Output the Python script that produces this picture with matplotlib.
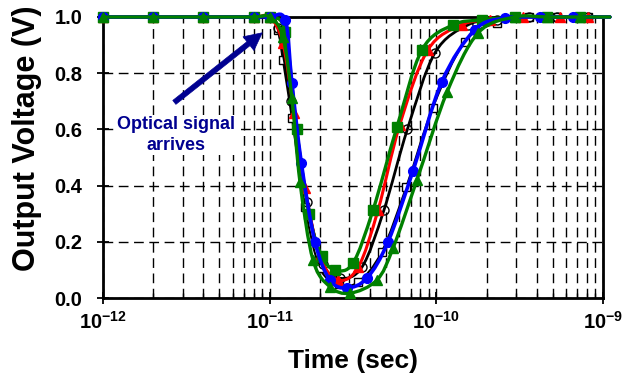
import matplotlib
matplotlib.use("Agg")
import numpy as np
import matplotlib.pyplot as plt
from matplotlib.path import Path
from matplotlib.patches import PathPatch
from matplotlib.ticker import FixedLocator, FixedFormatter, LogLocator, NullFormatter

plt.rcParams["font.family"] = ["Liberation Sans", "DejaVu Sans"]
plt.rcParams["font.weight"] = "bold"
plt.rcParams["mathtext.fontset"] = "custom"
plt.rcParams["mathtext.rm"] = "Liberation Sans:bold"
plt.rcParams["mathtext.bf"] = "Liberation Sans:bold"
plt.rcParams["mathtext.default"] = "bf"

# ── Data (time in s, output in V) ─────────────────────────────────────────
flat_t = [1e-12, 2e-12, 4e-12, 8e-12, 1e-11]
flat_v = [1.0, 1.0, 1.0, 1.0, 1.0]

sq_t = flat_t + [1.12e-11, 1.2e-11, 1.36e-11, 1.63e-11, 2.0e-11, 2.6e-11, 3.4e-11, 4.7e-11,
                 6.6e-11, 9.5e-11, 1.48e-10, 2.3e-10, 3.6e-10, 5.3e-10, 8.1e-10, 1.1e-9]
sq_v = flat_v + [0.954, 0.847, 0.64, 0.324, 0.107, 0.05, 0.057, 0.164,
                 0.395, 0.676, 0.911, 0.979, 1.0, 1.0, 1.0, 1.0]

circ_t = flat_t + [1.12e-11, 1.35e-11, 1.68e-11, 2.1e-11, 2.64e-11, 3.58e-11, 4.85e-11,
                   6.7e-11, 9.8e-11, 1.55e-10, 2.3e-10, 3.6e-10, 5.3e-10, 8.1e-10, 1.1e-9]
circ_v = flat_v + [0.96, 0.7, 0.34, 0.12, 0.07, 0.11, 0.313,
                   0.6, 0.872, 0.972, 0.99, 1.0, 1.0, 1.0, 1.0]

red_t = flat_t + [1.2e-11, 1.4e-11, 1.63e-11, 2.0e-11, 2.57e-11, 3.4e-11, 4.47e-11,
                  6.03e-11, 8.9e-11, 1.42e-10, 2.1e-10, 3.3e-10, 5.5e-10, 8.1e-10, 1.1e-9]
red_v = flat_v + [0.907, 0.66, 0.39, 0.15, 0.064, 0.11, 0.313,
                  0.616, 0.883, 0.972, 0.99, 1.0, 1.0, 1.0, 1.0]

gsq_t = flat_t + [1.24e-11, 1.45e-11, 1.72e-11, 2.05e-11, 2.47e-11, 3.16e-11, 4.17e-11,
                  5.8e-11, 8.2e-11, 1.26e-10, 1.88e-10, 2.95e-10, 4.6e-10, 7.3e-10, 1.1e-9]
gsq_v = flat_v + [0.947, 0.6, 0.3, 0.15, 0.1, 0.124, 0.313,
                  0.608, 0.883, 0.972, 0.99, 1.0, 1.0, 1.0, 1.0]

blue_t = flat_t + [1.24e-11, 1.36e-11, 1.55e-11, 1.87e-11, 2.3e-11, 2.91e-11, 3.84e-11,
                   5.13e-11, 7.24e-11, 1.08e-10, 1.7e-10, 2.57e-10, 4.2e-10, 6.6e-10, 1.1e-9]
blue_v = flat_v + [0.99, 0.765, 0.48, 0.2, 0.064, 0.036, 0.071,
                   0.2, 0.452, 0.77, 0.954, 0.996, 1.0, 1.0, 1.0]

gtri_t = flat_t + [1.2e-11, 1.36e-11, 1.52e-11, 1.82e-11, 2.3e-11, 3.03e-11, 4.4e-11,
                   5.5e-11, 7.65e-11, 1.16e-10, 1.78e-10, 2.95e-10, 4.6e-10, 7.3e-10, 1.1e-9]
gtri_v = flat_v + [0.93, 0.71, 0.413, 0.135, 0.04, 0.017, 0.064,
                   0.178, 0.42, 0.733, 0.943, 1.0, 1.0, 1.0, 1.0]

x_major = [1e-12, 1e-11, 1e-10, 1e-9]
x_labels = [r"$\mathbf{10^{-12}}$", r"$\mathbf{10^{-11}}$", r"$\mathbf{10^{-10}}$", r"$\mathbf{10^{-9}}$"]
y_ticks = [0.0, 0.2, 0.4, 0.6, 0.8, 1.0]

NAVY = "#000090"
GREEN = "#008000"


def smooth_path(t, v):
    """Excel-style smoothed line: Catmull-Rom segments drawn as cubic Beziers in log-x space."""
    x = np.log10(np.asarray(t, float))
    y = np.asarray(v, float)
    p = np.column_stack([x, y])
    p = np.vstack([p[0], p, p[-1]])  # pad ends
    verts, codes = [p[1]], [Path.MOVETO]
    for i in range(1, len(p) - 2):
        c1 = p[i] + (p[i + 1] - p[i - 1]) / 6.0
        c2 = p[i + 1] - (p[i + 2] - p[i]) / 6.0
        verts += [c1, c2, p[i + 1]]
        codes += [Path.CURVE4] * 3
    verts = np.array(verts)
    verts[:, 0] = 10 ** verts[:, 0]
    return Path(verts, codes)


def draw_series(ax, t, v, color, lw, z, **mkw):
    ax.add_patch(PathPatch(smooth_path(t, v), fill=False, ec=color, lw=lw,
                           capstyle="round", joinstyle="round", clip_on=False, zorder=z))
    # last point lies past the right edge: line only, no marker
    ax.plot(t[:-1], v[:-1], ls="none", clip_on=False, zorder=z + 0.1, **mkw)


# ── Figure ────────────────────────────────────────────────────────────────
fig = plt.figure(figsize=(6.33, 3.75), dpi=100)
ax = fig.add_axes([103 / 633, 1 - 298 / 375, 500 / 633, 281 / 375])

ax.set_xscale("log")
ax.set_xlim(1e-12, 1e-9)
ax.set_ylim(0.0, 1.0)

dash = (0, (7, 4))
ax.grid(True, axis="x", which="both", color="black", ls=dash, lw=1.0)
ax.grid(True, axis="y", which="major", color="black", ls=dash, lw=1.0)
ax.set_axisbelow(True)

draw_series(ax, sq_t, sq_v, "black", 1.5, 3,
            marker="s", ms=6, mfc="white", mec="black", mew=1.0)
draw_series(ax, circ_t, circ_v, "black", 2.0, 4,
            marker="o", ms=6.5, mfc="none", mec="black", mew=1.0)
draw_series(ax, red_t, red_v, "red", 2.2, 5,
            marker="^", ms=7, mfc="red", mec="red")
draw_series(ax, gsq_t, gsq_v, GREEN, 2.4, 5.5,
            marker="s", ms=6.5, mfc=GREEN, mec=GREEN)
draw_series(ax, blue_t, blue_v, "blue", 2.6, 6,
            marker="o", ms=7, mfc="blue", mec="blue")
draw_series(ax, gtri_t, gtri_v, GREEN, 2.4, 7,
            marker="^", ms=7.5, mfc=GREEN, mec=GREEN)

# ── Axes styling ──────────────────────────────────────────────────────────
for side in ["left", "right", "top", "bottom"]:
    ax.spines[side].set_linewidth(2.0)
    ax.spines[side].set_color("black")

ax.xaxis.set_major_locator(FixedLocator(x_major))
ax.xaxis.set_major_formatter(FixedFormatter(x_labels))
ax.xaxis.set_minor_locator(LogLocator(base=10, subs=range(2, 10), numticks=20))
ax.xaxis.set_minor_formatter(NullFormatter())
ax.set_yticks(y_ticks)
ax.set_yticklabels([f"{v:.1f}" for v in y_ticks], fontweight="bold")

ax.tick_params(axis="x", which="major", direction="inout", length=8, width=1.3,
               labelsize=14.5, pad=5, top=False)
ax.tick_params(axis="x", which="minor", direction="in", length=3.5, width=1.0, top=False)
ax.tick_params(axis="y", which="major", direction="inout", length=8, width=1.3,
               labelsize=14.5, pad=11, right=False)

ax.set_xlabel("Time (sec)", fontsize=19, fontweight="bold")
ax.set_ylabel("Output Voltage (V)", fontsize=22, fontweight="bold")
ax.xaxis.set_label_coords(0.5, -0.18)
ax.yaxis.set_label_coords(-0.122, 0.568)

# ── Annotation ────────────────────────────────────────────────────────────
ax.annotate("", xy=(9.3e-12, 0.95), xytext=(2.6e-12, 0.69),
            arrowprops=dict(arrowstyle="simple,tail_width=0.2,head_width=0.7,head_length=0.7",
                            mutation_scale=18, fc=NAVY, ec=NAVY, lw=0.5),
            zorder=8)
ax.text(2.75e-12, 0.58, "Optical signal\narrives", color=NAVY, fontsize=13,
        fontweight="bold", ha="center", va="center", linespacing=1.3, zorder=8,
        bbox=dict(boxstyle="square,pad=0.05", fc="white", ec="none"))

fig.savefig("out.png", dpi=100)
